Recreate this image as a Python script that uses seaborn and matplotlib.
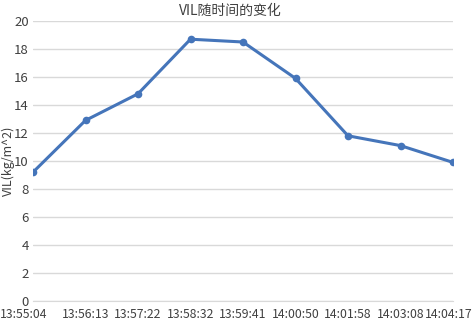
import matplotlib
matplotlib.use("Agg")
import matplotlib.pyplot as plt
import matplotlib.transforms as mtransforms
import seaborn as sns
import pandas as pd

# data
times = ["13:55:04", "13:56:13", "13:57:22", "13:58:32", "13:59:41",
         "14:00:50", "14:01:58", "14:03:08", "14:04:17"]
vil = [9.2, 12.9, 14.8, 18.7, 18.5, 15.9, 11.8, 11.1, 9.9]

df = pd.DataFrame({"idx": range(len(times)), "time": times, "VIL": vil})

sns.set_style("white")
plt.rcParams['font.family'] = ['Noto Sans CJK SC', 'DejaVu Sans']

fig = plt.figure(figsize=(4.72, 3.20), dpi=100)
ax = fig.add_axes([33 / 472, 1 - 301 / 320, 420 / 472, 280 / 320])

sns.lineplot(data=df, x="idx", y="VIL", ax=ax, color="#4575BA", linewidth=2.2,
             marker="o", markersize=5.5, markeredgewidth=0, zorder=3)

ax.set_xlim(0, len(times) - 1)
ax.set_ylim(0, 20)
ax.set_yticks(range(0, 21, 2))
ax.set_xticks(df["idx"])
ax.set_xticklabels(times)
ax.yaxis.grid(True, color="#D9D9D9", linewidth=1)
ax.xaxis.grid(False)

for side in ["top", "right", "left"]:
    ax.spines[side].set_visible(False)
ax.spines["bottom"].set_color("#D9D9D9")
ax.tick_params(axis="x", length=4, color="#D9D9D9", direction="out", pad=1,
               labelsize=8.8, labelcolor="#404040")
ax.tick_params(axis="y", length=0, pad=3, labelsize=9.5, labelcolor="#404040")

# end labels shifted so they fit inside the figure, like Excel does
labels = ax.get_xticklabels()
first = labels[0]
first.set_horizontalalignment("left")
first.set_transform(first.get_transform() +
                    mtransforms.ScaledTranslation(-33 / 100, 0, fig.dpi_scale_trans))
last = labels[-1]
last.set_horizontalalignment("right")
last.set_transform(last.get_transform() +
                   mtransforms.ScaledTranslation(19 / 100, 0, fig.dpi_scale_trans))

ax.set_xlabel("")
ax.set_ylabel("VIL(kg/m^2)", fontsize=9, color="#404040")
ax.yaxis.set_label_coords(-18 / 420, 0.5)

fig.text(230 / 472, 1 - 11 / 320, "VIL随时间的变化", ha="center", va="center",
         fontsize=10, color="#404040")

fig.savefig("out.png", dpi=100)
